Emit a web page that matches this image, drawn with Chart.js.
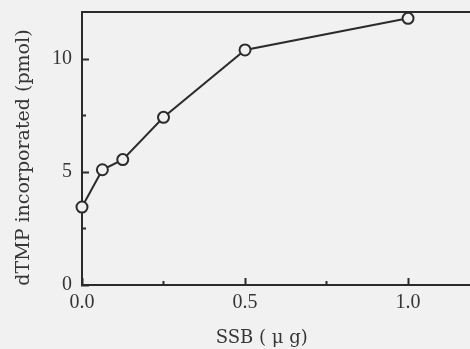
<!DOCTYPE html>
<html>
<head>
<meta charset="utf-8">
<script src="https://cdn.jsdelivr.net/npm/chart.js@4.4.0/dist/chart.umd.min.js"></script>
<style>
  html, body { margin: 0; padding: 0; background: #f1f1f1; overflow: hidden; }
  #wrap { width: 470px; height: 349px; }
</style>
</head>
<body>
<div id="wrap"><canvas id="chart" width="470" height="349"></canvas></div>
<script>
// SSB amount (µg) vs dTMP incorporated (pmol)
const ssb = [0, 0.0625, 0.125, 0.25, 0.5, 1.0];
const dtmp = [3.45, 5.1, 5.55, 7.42, 10.4, 11.8];

const xMajor = [0, 0.5, 1.0];
const xMinor = [0.25, 0.75];
const yMajor = [0, 5, 10];
const yMinor = [2.5, 7.5];

const ink = "#2b2b2b";
const textInk = "#363636";
const tickFont = "'Liberation Serif', serif";
const titleFont = "'DejaVu Serif', serif";

const setTicks = (vals) => (s) => { s.ticks = vals.map(v => ({ value: v })); };
// fixed size, no extra label overflow padding
const fitTo = (w, h) => (s) => {
  if (w !== null) s.width = w;
  if (h !== null) s.height = h;
  s.paddingTop = 0; s.paddingBottom = 0; s.paddingLeft = 0; s.paddingRight = 0;
};

new Chart(document.getElementById("chart"), {
  type: "scatter",
  data: {
    datasets: [{
      data: ssb.map((x, i) => ({ x: x, y: dtmp[i] })),
      showLine: true,
      borderColor: ink,
      borderWidth: 2,
      pointRadius: 5.5,
      pointBorderWidth: 2,
      pointBorderColor: ink,
      pointBackgroundColor: "#f1f1f1",
      clip: false
    }]
  },
  options: {
    responsive: false,
    animation: false,
    layout: { padding: 0, autoPadding: false },
    plugins: { legend: { display: false }, tooltip: { enabled: false } },
    scales: {
      x: {
        type: "linear", position: "bottom", weight: 1,
        min: 0, max: 1.19,
        afterBuildTicks: setTicks(xMajor),
        afterFit: fitTo(null, 64),
        grid: { drawOnChartArea: false, tickLength: -7, tickColor: ink, tickWidth: 2 },
        border: { display: true, color: ink, width: 2 },
        ticks: {
          padding: 13, color: textInk,
          font: { family: tickFont, size: 20 },
          callback: (v) => v.toFixed(1)
        },
        title: {
          display: true, text: "SSB ( \u03bc g)     ", color: textInk,
          font: { family: titleFont, size: 18 }, padding: { top: 0, bottom: 0 }
        }
      },
      xMin: {
        type: "linear", position: "bottom", weight: 0,
        min: 0, max: 1.19,
        afterBuildTicks: setTicks(xMinor),
        afterFit: fitTo(null, 0),
        grid: { drawOnChartArea: false, tickLength: -4, tickColor: ink, tickWidth: 2 },
        border: { display: false },
        ticks: { display: false }
      },
      xTop: {
        type: "linear", position: "top", weight: 1,
        min: 0, max: 1.19,
        afterFit: fitTo(null, 12),
        grid: { display: false },
        border: { display: true, color: ink, width: 2 },
        ticks: { display: false }
      },
      y: {
        type: "linear", position: "left", weight: 1,
        min: 0, max: 12.08,
        afterBuildTicks: setTicks(yMajor),
        afterFit: fitTo(82, null),
        grid: { drawOnChartArea: false, tickLength: -7, tickColor: ink, tickWidth: 2 },
        border: { display: true, color: ink, width: 2 },
        ticks: {
          padding: 17, color: textInk,
          font: { family: tickFont, size: 20 }
        },
        title: {
          display: true, text: "dTMP incorporated (pmol)   ", color: textInk,
          font: { family: titleFont, size: 19 }, padding: { top: 13, bottom: 0 }
        }
      },
      yMin: {
        type: "linear", position: "left", weight: 0,
        min: 0, max: 12.08,
        afterBuildTicks: setTicks(yMinor),
        afterFit: fitTo(0, null),
        grid: { drawOnChartArea: false, tickLength: -4, tickColor: ink, tickWidth: 2 },
        border: { display: false },
        ticks: { display: false }
      }
    }
  }
});
</script>
</body>
</html>
